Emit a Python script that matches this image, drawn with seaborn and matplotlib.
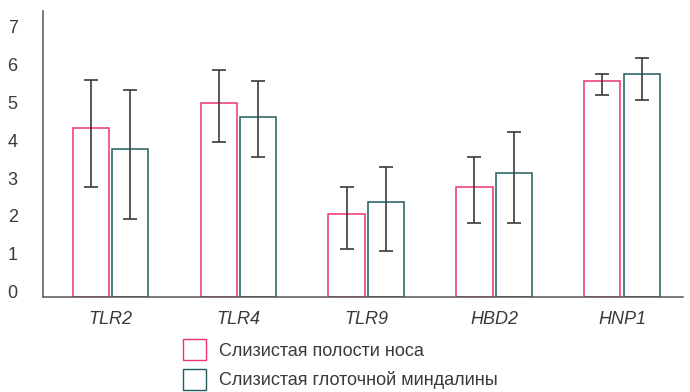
import matplotlib
matplotlib.use("Agg")
import matplotlib.pyplot as plt
import matplotlib.transforms as mtransforms
from matplotlib.patches import Patch
import seaborn as sns
import pandas as pd
import numpy as np

genes = ["TLR2", "TLR4", "TLR9", "HBD2", "HNP1"]
series = ["Слизистая полости носа", "Слизистая глоточной миндалины"]
nasal_mean = [4.47, 5.11, 2.19, 2.91, 5.71]
nasal_low = [2.91, 4.09, 1.28, 1.96, 5.32]
nasal_high = [5.72, 6.00, 2.91, 3.70, 5.88]
tonsil_mean = [3.90, 4.74, 2.52, 3.28, 5.88]
tonsil_low = [2.06, 3.70, 1.21, 1.96, 5.20]
tonsil_high = [5.47, 5.71, 3.44, 4.35, 6.32]
yticks = [0, 1, 2, 3, 4, 5, 6, 7]

colors = ["#EC3468", "#1E5E5D"]
text_color = "#3a3a3a"

sns.set_theme(style="white")
plt.rcParams["font.family"] = ["Liberation Sans", "DejaVu Sans"]

df = pd.DataFrame({
    "gene": genes * 2,
    "series": [series[0]] * len(genes) + [series[1]] * len(genes),
    "value": nasal_mean + tonsil_mean,
})

fig = plt.figure(figsize=(6.9, 3.92), dpi=100)
ax = fig.add_axes([42.7 / 690, 95 / 392, (683 - 42.7) / 690, 286 / 392])

sns.barplot(data=df, x="gene", y="value", hue="series", order=genes,
            hue_order=series, palette=colors, fill=False, width=0.62,
            gap=0.09, linewidth=1.1, errorbar=None, legend=False, ax=ax)

lows = [nasal_low, tonsil_low]
highs = [nasal_high, tonsil_high]
means = [nasal_mean, tonsil_mean]
bar_containers = list(ax.containers)
for i, cont in enumerate(bar_containers):
    xs = [b.get_x() + b.get_width() / 2 for b in cont.patches]
    m = np.array(means[i])
    lo = np.array(lows[i])
    hi = np.array(highs[i])
    ax.errorbar(xs, m, yerr=[m - lo, hi - m], fmt="none", ecolor="#3a3a3a",
                elinewidth=1.2, capsize=5, capthick=1.2, zorder=5)

ax.set_xlim(-0.53, 4.475)
ax.set_ylim(0, 7.55)
ax.set_yticks(yticks)
ax.set_yticklabels([str(t) for t in yticks])
ax.set_xlabel("")
ax.set_ylabel("")

for s in ["top", "right"]:
    ax.spines[s].set_visible(False)
for s in ["left", "bottom"]:
    ax.spines[s].set_color("#555555")
    ax.spines[s].set_linewidth(1.1)

ax.tick_params(axis="y", length=0, pad=18, labelsize=13, labelcolor=text_color)
ax.tick_params(axis="x", length=0, pad=10, labelsize=13, labelcolor=text_color)
for lab in ax.get_xticklabels():
    lab.set_fontstyle("italic")

offset = mtransforms.ScaledTranslation(0, 5.3 / 100, fig.dpi_scale_trans)
for lab in ax.get_yticklabels():
    lab.set_transform(lab.get_transform() + offset)

handles = [Patch(facecolor="white", edgecolor=c, linewidth=1.0) for c in colors]
fig.legend(handles, series, loc="upper left",
           bbox_to_anchor=(183 / 690, 1 - 339 / 392), frameon=False,
           fontsize=13, labelcolor=text_color, handlelength=1.3,
           handleheight=1.45, handletextpad=0.72, labelspacing=0.45,
           borderpad=0, borderaxespad=0)

fig.savefig("out.png", dpi=100)
